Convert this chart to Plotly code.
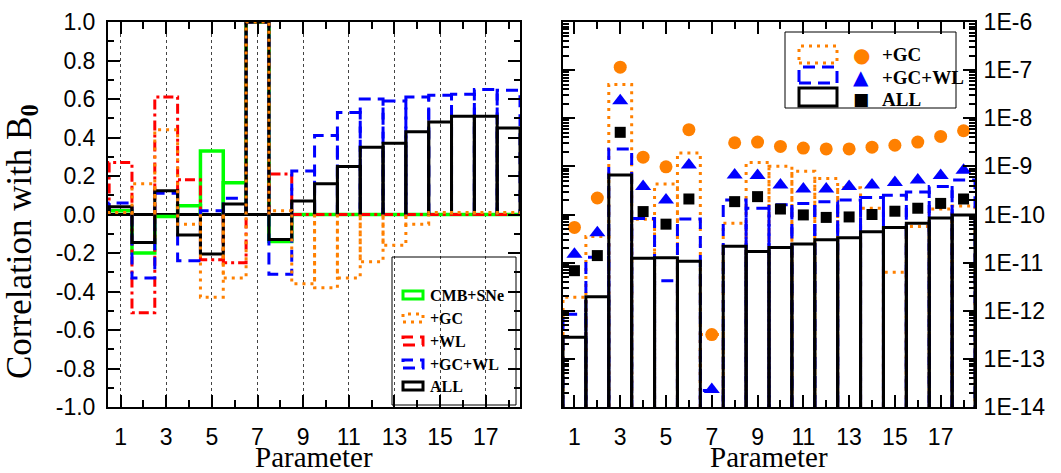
import plotly.graph_objects as go

W, H = 1061, 473

params = list(range(1, 19))

# ---- left panel: correlation with B0 ----
corr_cmb_sne = [0.02, -0.20, -0.01, 0.045, 0.33, 0.165, 1.0, -0.14, 0, 0, 0, 0, 0, 0, 0, 0, 0, 0]
corr_gc = [0.01, 0.16, 0.44, -0.05, -0.43, -0.33, 1.0, 0.02, -0.36, -0.38, -0.33, -0.245, -0.16, -0.05, 0.01, 0.01, 0.01, 0.01]
corr_wl = [0.27, -0.51, 0.61, 0.18, -0.235, -0.25, 1.0, 0.21, 0, 0, 0, 0, 0, 0, 0, 0, 0, 0]
corr_gc_wl = [0.06, -0.33, 0.11, -0.24, 0.02, 0.085, 1.0, -0.31, 0.226, 0.41, 0.53, 0.60, 0.59, 0.61, 0.62, 0.625, 0.65, 0.645]
corr_all = [0.04, -0.145, 0.124, -0.107, -0.205, 0.055, 1.0, -0.13, 0.07, 0.16, 0.25, 0.35, 0.37, 0.43, 0.48, 0.51, 0.51, 0.45]

# ---- right panel: bars ----
bar_gc = [1.9e-12, 3.5e-11, 5.0e-8, 8e-11, 4.3e-10, 1.9e-9, 3.2e-13, 6.6e-11, 1.2e-9, 1.0e-9,
          7.9e-10, 5.6e-10, 3.6e-10, 1.35e-10, 6.3e-12, 5.6e-11, 1.3e-10, 1.5e-10]
bar_gc_wl = [8.5e-13, 1.3e-11, 2.3e-9, 8.3e-11, 4.2e-12, 8.1e-11, 2.2e-14, 2.0e-10, 1.35e-10, 1.6e-10,
             1.7e-10, 1.85e-10, 2.0e-10, 2.25e-10, 2.5e-10, 2.95e-10, 3.8e-10, 5.2e-10]
bar_all = [2.8e-13, 1.95e-12, 6.6e-10, 1.23e-11, 1.26e-11, 1.07e-11, None, 2.2e-11, 1.7e-11, 2.05e-11,
           2.45e-11, 3.0e-11, 3.3e-11, 4.4e-11, 5.4e-11, 6.6e-11, 8.5e-11, 9.8e-11]
# ---- right panel: points ----
pt_gc = [5.4e-11, 2.2e-10, 1.15e-7, 1.55e-9, 9.8e-10, 5.8e-9, 3.2e-13, 3.1e-9, 3.2e-9, 2.6e-9,
         2.4e-9, 2.3e-9, 2.3e-9, 2.5e-9, 2.75e-9, 3.2e-9, 4.2e-9, 5.5e-9]
pt_gc_wl = [1.5e-11, 4.2e-11, 2.3e-8, 3.8e-10, 2.0e-10, 1.07e-9, 2.3e-14, 6.6e-10, 6.5e-10, 4.1e-10,
            3.4e-10, 3.4e-10, 3.8e-10, 4.1e-10, 4.6e-10, 5.2e-10, 6.5e-10, 8.3e-10]
pt_all = [6.8e-12, 1.4e-11, 5.1e-9, 1.15e-10, 6.3e-11, 2.1e-10, None, 1.85e-10, 2.35e-10, 1.3e-10,
          9.8e-11, 8.7e-11, 8.9e-11, 1.0e-10, 1.17e-10, 1.35e-10, 1.7e-10, 2.1e-10]

left_series = ["CMB+SNe", "+GC", "+WL", "+GC+WL", "ALL"]
right_series = ["+GC", "+GC+WL", "ALL"]
y_left_tickvals = [-1.0, -0.8, -0.6, -0.4, -0.2, 0.0, 0.2, 0.4, 0.6, 0.8, 1.0]
y_left_ticktext = ["-1.0", "-0.8", "-0.6", "-0.4", "-0.2", "0.0", "0.2", "0.4", "0.6", "0.8", "1.0"]
y_right_tickvals = [1e-14, 1e-13, 1e-12, 1e-11, 1e-10, 1e-9, 1e-8, 1e-7, 1e-6]
y_right_ticktext = ["1E-14", "1E-13", "1E-12", "1E-11", "1E-10", "1E-9", "1E-8", "1E-7", "1E-6"]

ORANGE = "#FF8000"
GREEN = "#00FF00"
RED = "#FF0000"
BLUE = "#0000FF"
BLACK = "#000000"

DOT = "3px,5px"
DASH = "12px,7px"
DASHDOT = "10px,4px,3px,4px"


def outline(xs, vals, base):
    X, Y = [], []
    for x, v in zip(xs, vals):
        if v is None:
            continue
        X += [x - 0.5, x - 0.5, x + 0.5, x + 0.5, None]
        Y += [base, v, v, base, None]
    return X, Y


fig = go.Figure()

# left panel
for vals, color, dash, width in [
    (corr_cmb_sne, GREEN, "solid", 3.5),
    (corr_wl, RED, DASHDOT, 3),
    (corr_gc_wl, BLUE, DASH, 3),
    (corr_all, BLACK, "solid", 3),
    (corr_gc, ORANGE, DOT, 3),
]:
    X, Y = outline(params, vals, 0)
    fig.add_trace(go.Scatter(x=X, y=Y, mode="lines", xaxis="x", yaxis="y",
                             line=dict(color=color, dash=dash, width=width),
                             showlegend=False, hoverinfo="skip"))

# right panel bars
for vals, color, dash, width in [
    (bar_gc, ORANGE, DOT, 3),
    (bar_gc_wl, BLUE, DASH, 3),
    (bar_all, BLACK, "solid", 3),
]:
    X, Y = outline(params, vals, 1e-14)
    fig.add_trace(go.Scatter(x=X, y=Y, mode="lines", xaxis="x2", yaxis="y2",
                             line=dict(color=color, dash=dash, width=width),
                             showlegend=False, hoverinfo="skip"))

# right panel markers
for vals, color, sym, size in [
    (pt_gc, ORANGE, "circle", 13),
    (pt_gc_wl, BLUE, "triangle-up", 14),
    (pt_all, BLACK, "square", 11),
]:
    fig.add_trace(go.Scatter(x=params, y=vals, mode="markers", xaxis="x2", yaxis="y2",
                             marker=dict(color=color, symbol=sym, size=size, line=dict(width=0)),
                             showlegend=False, hoverinfo="skip"))

TICKFONT = dict(family="Liberation Sans, Arial", size=23, color="black")
y0 = 1 - 407 / H
y1 = 1 - 22 / H

common_axis = dict(showline=True, linewidth=2, linecolor="black", mirror="allticks",
                   ticks="inside", tickwidth=2, ticklen=12, tickcolor="black",
                   tickfont=TICKFONT, automargin=False)

fig.update_layout(
    width=W, height=H,
    margin=dict(l=0, r=0, t=0, b=0, pad=0, autoexpand=False),
    paper_bgcolor="white", plot_bgcolor="white",
    showlegend=False,
    xaxis=dict(domain=[108 / W, 520 / W], range=[0.45, 18.5], tick0=1, dtick=2,
               showgrid=True, griddash="dot", gridcolor="#444444", gridwidth=1,
               zeroline=False, anchor="y", ticklabelstandoff=8,
               minor=dict(dtick=1, tick0=0, ticks="inside", ticklen=7, tickwidth=2,
                          tickcolor="black", showgrid=False),
               **common_axis),
    yaxis=dict(domain=[y0, y1], range=[-1, 1], tickvals=y_left_tickvals, ticktext=y_left_ticktext,
               showgrid=False, zeroline=True, zerolinecolor="black", zerolinewidth=3,
               anchor="x", ticklabelstandoff=6,
               minor=dict(dtick=0.1, tick0=0, ticks="inside", ticklen=6, tickwidth=2,
                          tickcolor="black", showgrid=False),
               **common_axis),
    xaxis2=dict(domain=[563 / W, 975 / W], range=[0.5, 18.5], tick0=1, dtick=2,
                showgrid=False, zeroline=False, anchor="y2", ticklabelstandoff=8,
                minor=dict(dtick=1, tick0=0, ticks="inside", ticklen=7, tickwidth=2,
                           tickcolor="black", showgrid=False),
                **common_axis),
    yaxis2=dict(domain=[y0, y1], type="log", range=[-14, -6], side="right",
                tickvals=y_right_tickvals, ticktext=y_right_ticktext,
                showgrid=False, zeroline=False, anchor="x2", ticklabelstandoff=2,
                minor=dict(dtick="D1", ticks="inside", ticklen=6, tickwidth=1.5,
                           tickcolor="black", showgrid=False),
                **common_axis),
)

SERIF = "Liberation Serif, Times New Roman"
ann = []
# axis titles
ann.append(dict(text="Parameter", x=314 / W, y=1 - 457 / H, xref="paper", yref="paper",
                showarrow=False, font=dict(family=SERIF, size=29, color="black"),
                xanchor="center", yanchor="middle"))
ann.append(dict(text="Parameter", x=769 / W, y=1 - 457 / H, xref="paper", yref="paper",
                showarrow=False, font=dict(family=SERIF, size=29, color="black"),
                xanchor="center", yanchor="middle"))
ann.append(dict(text="Correlation with B<sub><b>0</b></sub>", x=21 / W, y=1 - 242 / H,
                xref="paper", yref="paper", textangle=-90, showarrow=False,
                font=dict(family=SERIF, size=35, color="black"),
                xanchor="center", yanchor="middle"))

shapes = []
# left legend
shapes.append(dict(type="rect", xref="paper", yref="paper", x0=392 / W, x1=516 / W,
                   y0=1 - 405 / H, y1=1 - 257 / H, line=dict(color="black", width=1),
                   fillcolor="rgba(0,0,0,0)"))
left_rows = [295, 318, 341, 364, 386]
left_styles = [(GREEN, "solid"), (ORANGE, DOT), (RED, DASH), (BLUE, DASH), (BLACK, "solid")]
for name, yy, (c, d) in zip(left_series, left_rows, left_styles):
    shapes.append(dict(type="rect", xref="paper", yref="paper", x0=403 / W, x1=423 / W,
                       y0=1 - (yy + 4) / H, y1=1 - (yy - 4) / H,
                       line=dict(color=c, width=3, dash=d)))
    ann.append(dict(text="<b>" + name + "</b>", x=428 / W, y=1 - yy / H, xref="paper", yref="paper",
                    showarrow=False, xanchor="left", yanchor="middle",
                    font=dict(family=SERIF, size=16, color="black")))

# right legend
shapes.append(dict(type="rect", xref="paper", yref="paper", x0=785 / W, x1=956 / W,
                   y0=1 - 108 / H, y1=1 - 32 / H, line=dict(color="black", width=1),
                   fillcolor="rgba(0,0,0,0)"))
right_rects = [(46, 63, ORANGE, DOT), (67, 83, BLUE, DASH), (88, 106, BLACK, "solid")]
right_rows = [55, 77, 99]
right_syms = [("●", ORANGE, 20), ("▲", BLUE, 20), ("■", BLACK, 17)]
for (ya, yb, c, d) in right_rects:
    shapes.append(dict(type="rect", xref="paper", yref="paper", x0=799 / W, x1=837 / W,
                       y0=1 - yb / H, y1=1 - ya / H, line=dict(color=c, width=3, dash=d)))
for name, yy, (s, c, fs) in zip(right_series, right_rows, right_syms):
    ann.append(dict(text=s, x=861 / W, y=1 - yy / H, xref="paper", yref="paper", showarrow=False,
                    xanchor="center", yanchor="middle",
                    font=dict(family="DejaVu Sans", size=fs, color=c)))
    ann.append(dict(text="<b>" + name + "</b>", x=880 / W, y=1 - yy / H, xref="paper", yref="paper",
                    showarrow=False, xanchor="left", yanchor="middle",
                    font=dict(family=SERIF, size=19, color="black")))

fig.update_layout(annotations=ann, shapes=shapes)
fig.write_html("out.html", config={"displayModeBar": False},
               post_script="document.body.style.margin='0';")
